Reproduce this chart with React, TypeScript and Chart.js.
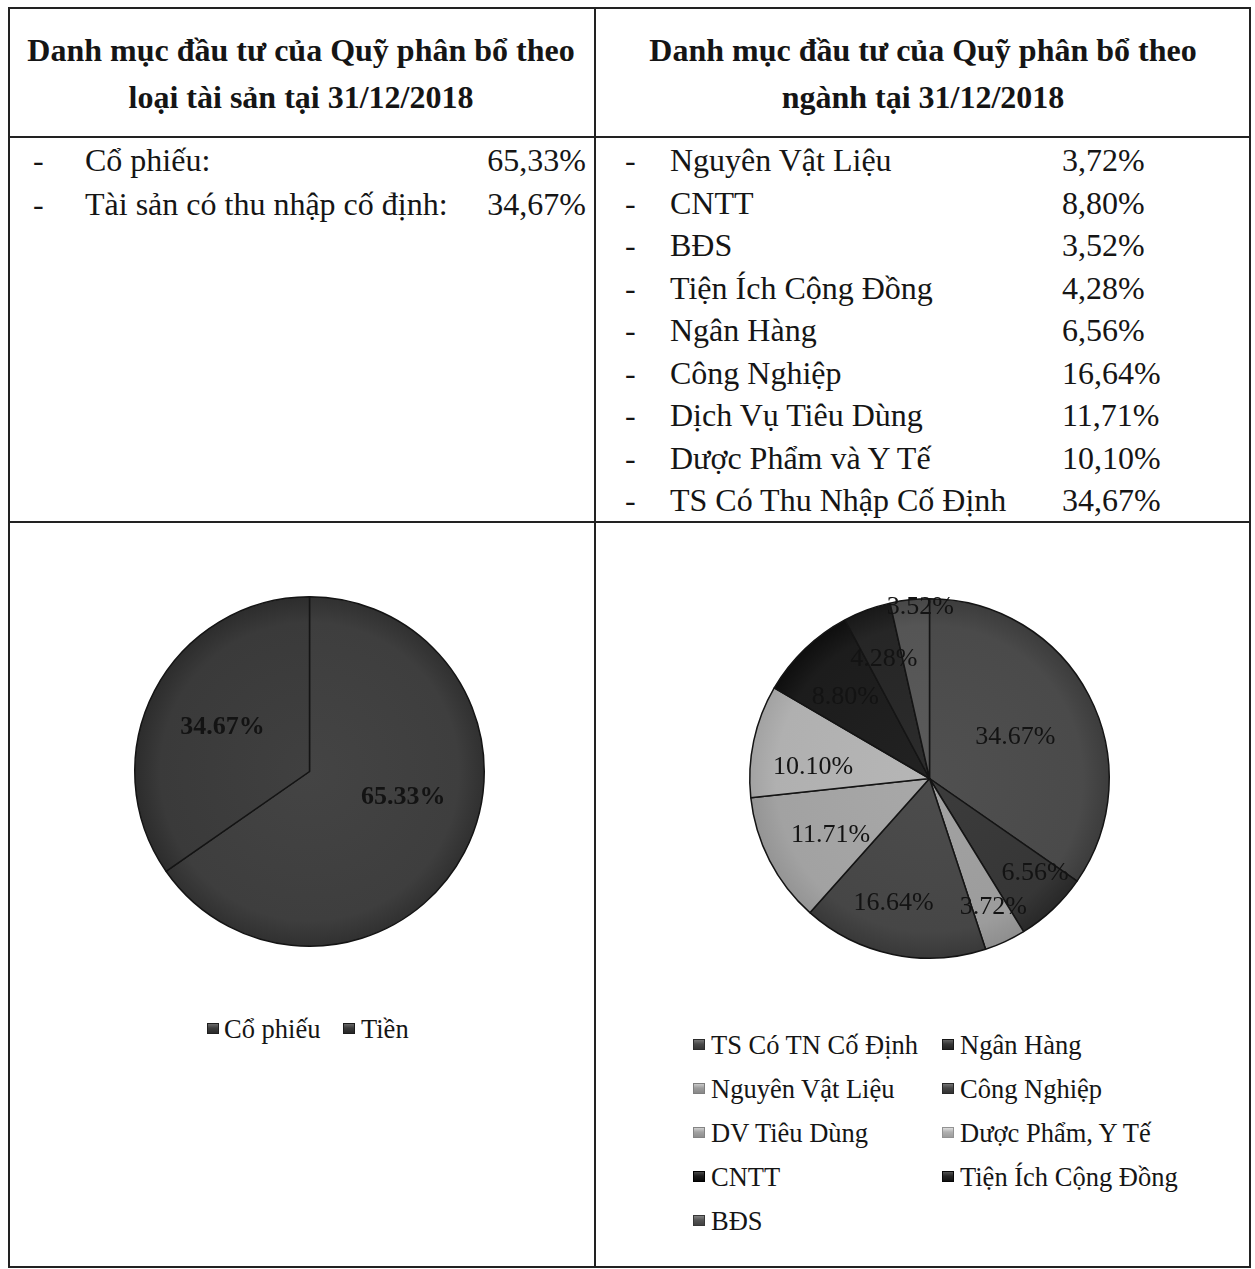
import React, { useEffect, useRef } from 'react';
import { Chart, registerables } from 'chart.js';

Chart.register(...registerables);

const FONT = '"Liberation Serif", "Times New Roman", serif';

// Header titles
const leftTitle = ['Danh mục đầu tư của Quỹ phân bổ theo', 'loại tài sản tại 31/12/2018'];
const rightTitle = ['Danh mục đầu tư của Quỹ phân bổ theo', 'ngành tại 31/12/2018'];

// Text lists
const assetListLabels = ['Cổ phiếu:', 'Tài sản có thu nhập cố định:'];
const assetListValues = [65.33, 34.67];
const sectorListLabels = [
  'Nguyên Vật Liệu',
  'CNTT',
  'BĐS',
  'Tiện Ích Cộng Đồng',
  'Ngân Hàng',
  'Công Nghiệp',
  'Dịch Vụ Tiêu Dùng',
  'Dược Phẩm và Y Tế',
  'TS Có Thu Nhập Cố Định',
];
const sectorListValues = [3.72, 8.8, 3.52, 4.28, 6.56, 16.64, 11.71, 10.1, 34.67];

// Pie 1: asset classes
const assetLabels = ['Cổ phiếu', 'Tiền'];
const assetValues = [65.33, 34.67];
const assetColors = ['#3e3e3e', '#3a3a3a'];
const assetLabelRadius = [0.557, 0.557];
const assetLabelAngleShift = [-12, -0.8];

// Pie 2: sectors
const sectorLabels = [
  'TS Có TN Cố Định',
  'Ngân Hàng',
  'Nguyên Vật Liệu',
  'Công Nghiệp',
  'DV Tiêu Dùng',
  'Dược Phẩm, Y Tế',
  'CNTT',
  'Tiện Ích Cộng Đồng',
  'BĐS',
];
const sectorValues = [34.67, 6.56, 3.72, 16.64, 11.71, 10.1, 8.8, 4.28, 3.52];
const sectorColors = ['#4a4a4a', '#363636', '#9c9c9c', '#464646', '#a2a2a2', '#b0b0b0', '#1c1c1c', '#262626', '#555555'];
const sectorLabelRadius = [0.53, 0.79, 0.8, 0.72, 0.635, 0.65, 0.65, 0.71, 0.955];
const sectorLabelAngleShift = [2, -4.7, -1.5, 4.3, -2.7, -6.7, -2.1, -0.6, 3.3];

function shade(hex: string, amt: number): string {
  const n = parseInt(hex.slice(1), 16);
  const c = (v: number) => Math.max(0, Math.min(255, v + amt));
  const r = c((n >> 16) & 255), g = c((n >> 8) & 255), b = c(n & 255);
  return `rgb(${r},${g},${b})`;
}

type PieProps = {
  labels: string[];
  values: number[];
  colors: string[];
  radii: number[];
  shifts: number[];
  bold: boolean;
  left: number;
  top: number;
  size: number;
  pad: number;
};

function PieChart({ labels, values, colors, radii, shifts, bold, left, top, size, pad }: PieProps) {
  const ref = useRef<HTMLCanvasElement | null>(null);
  useEffect(() => {
    if (!ref.current) return;
    const labelPlugin = {
      id: 'sliceLabels',
      afterDatasetsDraw(chart: any) {
        const ctx = chart.ctx;
        const meta = chart.getDatasetMeta(0);
        ctx.save();
        ctx.font = `${bold ? 'bold ' : ''}26px ${FONT}`;
        ctx.fillStyle = '#131313';
        ctx.textAlign = 'center';
        ctx.textBaseline = 'middle';
        meta.data.forEach((arc: any, i: number) => {
          const p = arc.getProps(['x', 'y', 'startAngle', 'endAngle', 'outerRadius'], true);
          const mid = (p.startAngle + p.endAngle) / 2 + (shifts[i] * Math.PI) / 180;
          const r = p.outerRadius * radii[i];
          ctx.fillText(values[i].toFixed(2) + '%', p.x + Math.cos(mid) * r, p.y + Math.sin(mid) * r);
        });
        ctx.restore();
      },
    };
    const chart = new Chart(ref.current, {
      type: 'pie',
      data: {
        labels,
        datasets: [
          {
            data: values,
            backgroundColor: (c: any) => {
              const base = colors[c.dataIndex];
              const area = c.chart.chartArea;
              if (!area) return base;
              const cx = (area.left + area.right) / 2;
              const cy = (area.top + area.bottom) / 2;
              const r = Math.min(area.width, area.height) / 2;
              const g = c.chart.ctx.createRadialGradient(cx, cy, 0, cx, cy, r);
              g.addColorStop(0, shade(base, 6));
              g.addColorStop(0.85, base);
              g.addColorStop(1, shade(base, -14));
              return g;
            },
            borderColor: '#141414',
            borderWidth: 1.5,
          },
        ],
      },
      options: {
        responsive: true,
        maintainAspectRatio: false,
        animation: false,
        layout: { padding: pad },
        plugins: { legend: { display: false }, tooltip: { enabled: false } },
      },
      plugins: [labelPlugin],
    } as any);
    return () => chart.destroy();
  }, []);
  return (
    <div style={{ position: 'absolute', left, top, width: size, height: size }}>
      <canvas ref={ref} />
    </div>
  );
}

function Marker({ color, left, top }: { color: string; left: number; top: number }) {
  return (
    <div
      style={{
        position: 'absolute',
        left,
        top,
        width: 12,
        height: 11,
        background: `linear-gradient(180deg, ${shade(color, 45)} 0%, ${color} 45%, ${shade(color, -20)} 100%)`,
        border: `1px solid ${shade(color, -30)}`,
        boxSizing: 'border-box',
      }}
    />
  );
}

function Txt({ x, y, text, size, bold, align }: { x: number; y: number; text: string; size: number; bold?: boolean; align?: 'left' | 'center' | 'right' }) {
  const lh = 40;
  const style: React.CSSProperties = {
    position: 'absolute',
    top: y - lh / 2,
    height: lh,
    lineHeight: lh + 'px',
    fontSize: size,
    fontWeight: bold ? 'bold' : 'normal',
    fontFamily: FONT,
    color: '#151515',
    whiteSpace: 'nowrap',
  };
  if (align === 'center') {
    style.left = x - 500;
    style.width = 1000;
    style.textAlign = 'center';
  } else if (align === 'right') {
    style.left = x - 1000;
    style.width = 1000;
    style.textAlign = 'right';
  } else {
    style.left = x;
  }
  return <div style={style}>{text}</div>;
}

function Line({ x1, y1, x2, y2 }: { x1: number; y1: number; x2: number; y2: number }) {
  return (
    <div
      style={{
        position: 'absolute',
        left: Math.min(x1, x2),
        top: Math.min(y1, y2),
        width: Math.max(2, Math.abs(x2 - x1)),
        height: Math.max(2, Math.abs(y2 - y1)),
        background: '#222',
      }}
    />
  );
}

const fmt = (v: number) => v.toFixed(2).replace('.', ',') + '%';

export default function App() {
  const L = 8, R = 1249, M = 594, T = 7, H1 = 136, H2 = 521, B = 1266;
  return (
    <div style={{ position: 'fixed', left: 0, top: 0, width: 1255, height: 1269, overflow: 'hidden', background: '#fff' }}>
      {/* table lines */}
      <Line x1={L} y1={T} x2={R + 2} y2={T} />
      <Line x1={L} y1={H1} x2={R + 2} y2={H1} />
      <Line x1={L} y1={H2} x2={R + 2} y2={H2} />
      <Line x1={L} y1={B} x2={R + 2} y2={B} />
      <Line x1={L} y1={T} x2={L} y2={B} />
      <Line x1={M} y1={T} x2={M} y2={B} />
      <Line x1={R} y1={T} x2={R} y2={B} />

      {/* headers */}
      {leftTitle.map((t, i) => (
        <Txt key={'lt' + i} x={301} y={50 + i * 47} text={t} size={32} bold align="center" />
      ))}
      {rightTitle.map((t, i) => (
        <Txt key={'rt' + i} x={923} y={50 + i * 47} text={t} size={32} bold align="center" />
      ))}

      {/* left list */}
      {assetListLabels.map((t, i) => (
        <React.Fragment key={'al' + i}>
          <Txt x={33} y={160 + i * 44} text="-" size={32} />
          <Txt x={85} y={160 + i * 44} text={t} size={32} />
          <Txt x={586} y={160 + i * 44} text={fmt(assetListValues[i])} size={32} align="right" />
        </React.Fragment>
      ))}

      {/* right list */}
      {sectorListLabels.map((t, i) => (
        <React.Fragment key={'sl' + i}>
          <Txt x={625} y={160 + i * 42.5} text="-" size={32} />
          <Txt x={670} y={160 + i * 42.5} text={t} size={32} />
          <Txt x={1062} y={160 + i * 42.5} text={fmt(sectorListValues[i])} size={32} />
        </React.Fragment>
      ))}

      {/* pies */}
      <PieChart labels={assetLabels} values={assetValues} colors={assetColors} radii={assetLabelRadius} shifts={assetLabelAngleShift} bold left={114} top={576} size={391} pad={20} />
      <PieChart labels={sectorLabels} values={sectorValues} colors={sectorColors} radii={sectorLabelRadius} shifts={sectorLabelAngleShift} bold={false} left={729} top={578} size={401} pad={20} />

      {/* legend 1 */}
      <Marker color={assetColors[0]} left={207} top={1023} />
      <Txt x={224} y={1029} text={assetLabels[0]} size={26.5} />
      <Marker color={assetColors[1]} left={343} top={1023} />
      <Txt x={361} y={1029} text={assetLabels[1]} size={26.5} />

      {/* legend 2 */}
      {sectorLabels.map((t, i) => {
        const col = i % 2;
        const row = Math.floor(i / 2);
        const x = col === 0 ? 693 : 942;
        const y = 1045 + row * 44;
        return (
          <React.Fragment key={'lg' + i}>
            <Marker color={sectorColors[i]} left={x} top={y - 6} />
            <Txt x={x + 18} y={y} text={t} size={26.5} />
          </React.Fragment>
        );
      })}
    </div>
  );
}
